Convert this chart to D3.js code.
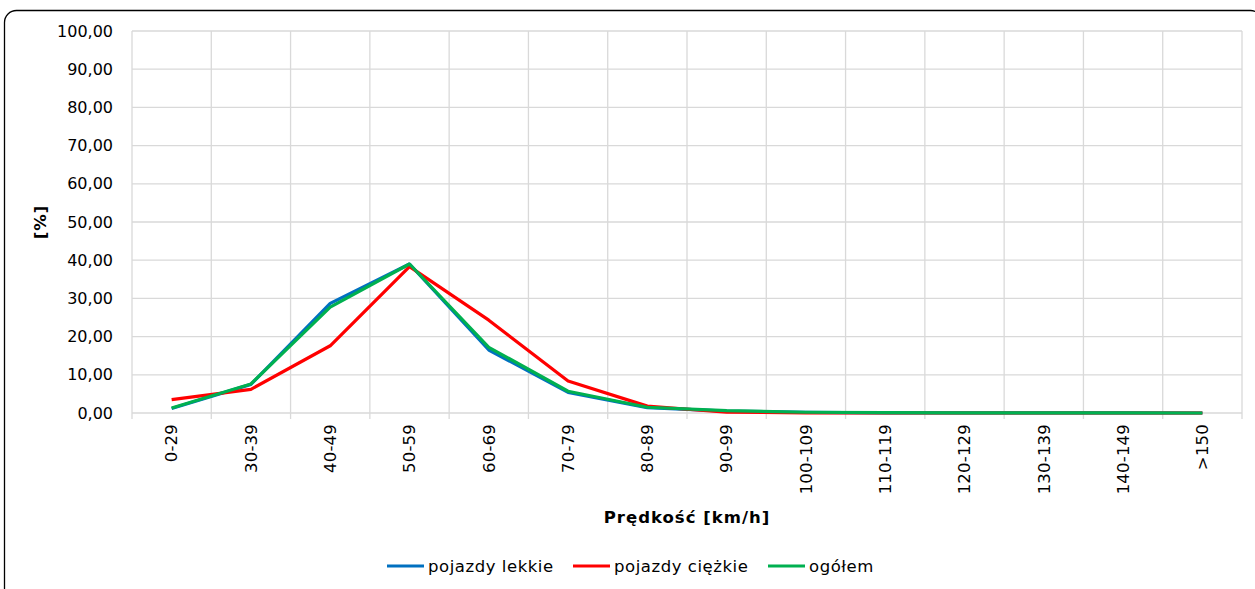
<!DOCTYPE html>
<html><head><meta charset="utf-8">
<script src="https://cdn.jsdelivr.net/npm/d3@7"></script>
<style>body{margin:0;background:#fff}svg{display:block}</style>
</head><body>
<svg id="c" width="1255" height="589"></svg>
<script>
const categories = ["0-29","30-39","40-49","50-59","60-69","70-79","80-89","90-99","100-109","110-119","120-129","130-139","140-149",">150"];
const lekkie   = [1.2, 7.5, 28.7, 39.0, 16.5, 5.4, 1.4, 0.5, 0.15, 0.05, 0.02, 0.01, 0.01, 0.0];
const ciezkie  = [3.5, 6.2, 17.6, 38.3, 24.3, 8.4, 1.8, 0.2, 0.05, 0.0, 0.0, 0.0, 0.0, 0.0];
const ogolem   = [1.3, 7.6, 27.7, 39.0, 17.2, 5.7, 1.5, 0.6, 0.2, 0.08, 0.03, 0.01, 0.01, 0.0];
const yTicks = [0,10,20,30,40,50,60,70,80,90,100];
const seriesNames = ["pojazdy lekkie","pojazdy ciężkie","ogółem"];
const seriesColors = ["#0070C0","#FF0000","#00B050"];

const svg = d3.select("#c");
const font = "'DejaVu Sans', Verdana, sans-serif";
svg.append("rect").attr("x",4.5).attr("y",10.5).attr("width",1258).attr("height",600)
  .attr("rx",12).attr("fill","#fff").attr("stroke","#000").attr("stroke-width",1.3);

const L=132,R=1242,T=31,B=413;
const x = d3.scaleBand().domain(categories).range([L,R]);
const y = d3.scaleLinear().domain([0,100]).range([B,T]);

const g = svg.append("g");
g.selectAll(".hg").data(yTicks).join("line")
  .attr("x1",L).attr("x2",R).attr("y1",d=>y(d)).attr("y2",d=>y(d))
  .attr("stroke","#d9d9d9").attr("stroke-width",1.3);
const bounds = categories.map(c=>x(c)).concat([R]);
g.selectAll(".vg").data(bounds).join("line")
  .attr("x1",d=>d).attr("x2",d=>d).attr("y1",T).attr("y2",B+6)
  .attr("stroke","#d9d9d9").attr("stroke-width",1.3);

g.selectAll(".yt").data(yTicks).join("text")
  .attr("x",113).attr("y",d=>y(d)).attr("dy","0.35em").attr("text-anchor","end")
  .attr("font-family",font).attr("font-size",16).attr("fill","#000")
  .text(d=>d3.format(".2f")(d).replace(".",","));

g.selectAll(".xt").data(categories).join("text")
  .attr("transform",d=>`translate(${x(d)+x.bandwidth()/2},${B+11}) rotate(-90)`)
  .attr("text-anchor","end").attr("dy","0.35em")
  .attr("font-family",font).attr("font-size",16.5).attr("letter-spacing",0.2).attr("fill","#000")
  .text(d=>d);

svg.append("text").attr("x",687).attr("y",523).attr("text-anchor","middle")
  .attr("font-family",font).attr("font-size",16.5).attr("letter-spacing",1.0).attr("font-weight","bold").text("Prędkość [km/h]");
svg.append("text").attr("transform","translate(40,222) rotate(-90)").attr("text-anchor","middle").attr("dy","0.35em")
  .attr("font-family",font).attr("font-size",16.5).attr("letter-spacing",1.0).attr("font-weight","bold").text("[%]");

const line = d3.line().x((d,i)=>x(categories[i])+x.bandwidth()/2).y(d=>y(d));
[lekkie,ciezkie,ogolem].forEach((s,i)=>{
  svg.append("path").attr("d",line(s)).attr("fill","none")
    .attr("stroke",seriesColors[i]).attr("stroke-width",3.2).attr("stroke-linejoin","round");
});

const legX=[387,573,768];
seriesNames.forEach((n,i)=>{
  svg.append("line").attr("x1",legX[i]).attr("x2",legX[i]+37).attr("y1",566).attr("y2",566)
    .attr("stroke",seriesColors[i]).attr("stroke-width",3.2);
  svg.append("text").attr("x",legX[i]+41).attr("y",566).attr("dy","0.35em")
    .attr("font-family",font).attr("font-size",16.5).attr("letter-spacing",0.55).attr("fill","#000").text(n);
});
</script>
</body></html>
